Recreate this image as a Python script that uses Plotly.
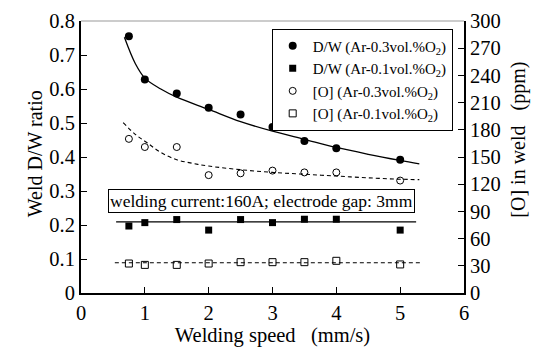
import plotly.graph_objects as go

# ---- data ----
speed = [0.75, 1.0, 1.5, 2.0, 2.5, 3.0, 3.5, 4.0, 5.0]
dw_03 = [0.755, 0.628, 0.587, 0.545, 0.525, 0.488, 0.447, 0.426, 0.392]
dw_01 = [0.197, 0.207, 0.216, 0.185, 0.216, 0.207, 0.217, 0.217, 0.185]
o_03 = [170, 161, 161, 130, 132, 135, 133, 133, 124]
o_01 = [32.5, 31, 31, 32.5, 34, 34, 34, 35.5, 31.5]

# trend curves
fit_dw03_x = [0.68, 0.85, 1.0, 1.25, 1.5, 2.0, 2.5, 3.0, 3.5, 4.0, 4.5, 5.0, 5.3]
fit_dw03_y = [0.752, 0.675, 0.632, 0.600, 0.576, 0.540, 0.504, 0.476, 0.452, 0.428, 0.408, 0.390, 0.380]
fit_dw01_x = [0.55, 5.25]
fit_dw01_y = [0.209, 0.209]
fit_o03_x = [0.66, 0.85, 1.03, 1.25, 1.5, 1.75, 2.0, 2.5, 3.0, 3.5, 4.0, 4.5, 5.0, 5.3]
fit_o03_y = [188, 175, 166, 155, 147, 143, 140, 136, 133, 131, 129, 127, 125.5, 125]
fit_o01_x = [0.53, 5.34]
fit_o01_y = [33.4, 33.4]

FONT = "Liberation Serif"
NB = "\u00a0"

fig = go.Figure()

# fit lines (no legend)
fig.add_trace(go.Scatter(x=fit_dw03_x, y=fit_dw03_y, mode="lines", line=dict(color="black", width=1.3, shape="spline"),
                         showlegend=False, hoverinfo="skip"))
fig.add_trace(go.Scatter(x=fit_dw01_x, y=fit_dw01_y, mode="lines", line=dict(color="black", width=1.3),
                         showlegend=False, hoverinfo="skip"))
fig.add_trace(go.Scatter(x=fit_o03_x, y=fit_o03_y, mode="lines", yaxis="y2",
                         line=dict(color="black", width=1.1, dash="4px,3px", shape="spline"),
                         showlegend=False, hoverinfo="skip"))
fig.add_trace(go.Scatter(x=fit_o01_x, y=fit_o01_y, mode="lines", yaxis="y2",
                         line=dict(color="black", width=1.1, dash="4px,3px"),
                         showlegend=False, hoverinfo="skip"))

# data points
fig.add_trace(go.Scatter(x=speed, y=dw_03, mode="markers", name="D/W (Ar-0.3vol.%O<sub>2</sub>)",
                         marker=dict(symbol="circle", size=8, color="black")))
fig.add_trace(go.Scatter(x=speed, y=dw_01, mode="markers", name="D/W (Ar-0.1vol.%O<sub>2</sub>)",
                         marker=dict(symbol="square", size=7, color="black")))
fig.add_trace(go.Scatter(x=speed, y=o_03, mode="markers", yaxis="y2", name="[O] (Ar-0.3vol.%O<sub>2</sub>)",
                         marker=dict(symbol="circle-open", size=7, color="black", line=dict(width=1))))
fig.add_trace(go.Scatter(x=speed, y=o_01, mode="markers", yaxis="y2", name="[O] (Ar-0.1vol.%O<sub>2</sub>)",
                         marker=dict(symbol="square-open", size=7, color="black", line=dict(width=1))))

axis_common = dict(showline=True, linecolor="black", linewidth=2, ticks="inside", ticklen=6,
                   tickcolor="black", tickwidth=1.2, showgrid=False, zeroline=False, automargin=False,
                   tickfont=dict(family=FONT, size=20.5, color="black"))

fig.update_layout(
    width=541, height=347,
    margin=dict(l=81, r=77, t=21, b=54),
    paper_bgcolor="white", plot_bgcolor="white",
    font=dict(family=FONT, color="black", size=16),
    xaxis=dict(range=[0, 6], dtick=1, mirror=False,
               title=dict(text="Welding speed" + NB * 3 + "(mm/s)", font=dict(family=FONT, size=20.5), standoff=2),
               **axis_common),
    yaxis=dict(range=[0, 0.8], dtick=0.1, ticklabelstandoff=0, **axis_common),
    yaxis2=dict(range=[0, 300], dtick=30, overlaying="y", side="right", ticklabelstandoff=0,
                **axis_common),
    legend=dict(x=(452.7 - 81) / 383, y=0.972, xanchor="right", yanchor="top",
                bgcolor="white", bordercolor="black", borderwidth=1,
                font=dict(family=FONT, size=15), tracegroupgap=0, itemwidth=30,
                itemsizing="trace"),
    showlegend=True,
)

# y-axis titles
fig.add_annotation(text="Weld D/W ratio", xref="paper", yref="paper", x=(22 - 81) / 383,
                   y=(293 - 154) / 272.3, textangle=-90, showarrow=False,
                   font=dict(family=FONT, size=20, color="black"))
fig.add_annotation(text="[O] in weld" + NB * 3 + "(ppm)", xref="paper", yref="paper", x=(532 - 81) / 383,
                   y=(293 - 140) / 272.3, textangle=-90, showarrow=False,
                   font=dict(family=FONT, size=20, color="black"))

# top frame line
fig.add_shape(type="line", xref="paper", yref="paper", x0=0, x1=1, y0=1, y1=1,
              line=dict(color="#999999", width=1))

fig.add_annotation(text="welding current:160A; electrode gap: 3mm", xref="paper", yref="paper",
                   x=(261.7 - 81) / 383, y=(293 - 200.8) / 272.3, showarrow=False,
                   font=dict(family=FONT, size=17.5, color="black"),
                   bordercolor="black", borderwidth=1, borderpad=1, bgcolor="white")

fig.write_html("out.html")
